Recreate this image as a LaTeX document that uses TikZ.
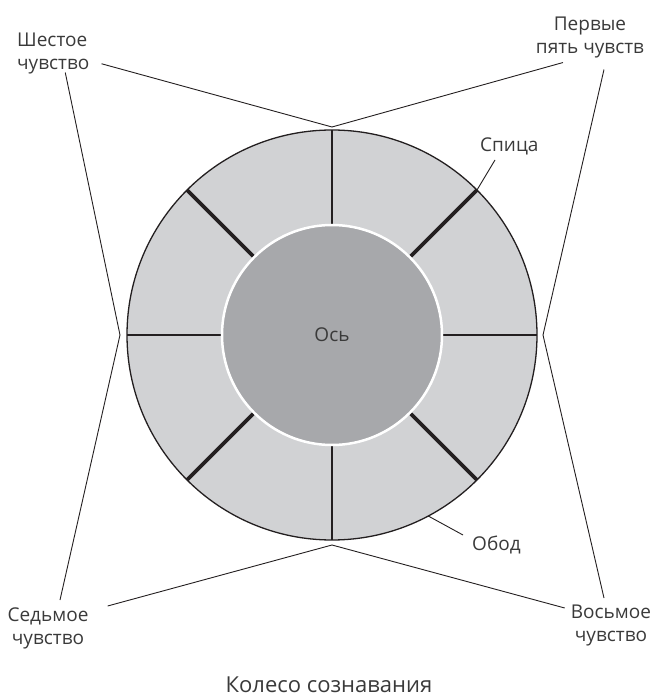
\documentclass[tikz,border=0pt]{standalone}
\usepackage{fontspec}
\setmainfont{Open Sans}

\definecolor{rimgray}{HTML}{D1D2D4}
\definecolor{hubgray}{HTML}{A7A8AB}
\definecolor{ink}{HTML}{231F20}
\definecolor{textgray}{HTML}{3A3A3A}

\tikzstyle{rim}=[circle,fill=rimgray,draw=ink,line width=1.3pt,minimum size=410pt,inner sep=0pt,outer sep=0pt]
\tikzstyle{hub}=[circle,fill=hubgray,draw=white,line width=2.5pt,minimum size=220pt,inner sep=0pt,text=textgray,font=\fontsize{19}{23}\selectfont]
\tikzstyle{thin spoke} = [draw=ink,line width=1.3pt]
\tikzstyle{thick spoke} = [draw=ink,line width=3.8pt]
\tikzstyle{sense} = [align=center,inner sep=0pt,text=textgray,font=\fontsize{19}{23}\selectfont]
\tikzstyle{part} = [inner sep=0pt,text=textgray,font=\fontsize{19}{23}\selectfont]
\tikzstyle{leader} = [draw=ink,line width=0.9pt]
\tikzstyle{caption} = [inner sep=0pt,text=textgray,font=\fontsize{22}{26}\selectfont]

\begin{document}
\begin{tikzpicture}[x=1pt,y=1pt]
     \useasboundingbox (-332,-363) rectangle (319,335);
     % The rim first, then the spokes, then the hub on top
     \node[rim] (rim) at (0,0) {};
     \foreach \a in {0,90,180,270}
     \path[thin spoke] (rim.center) -- (rim.\a);
     \foreach \a in {45,135,225,315}
     \path[thick spoke] (rim.center) -- (rim.\a);
     \node[hub] (hub) at (0,0) {Ось};

     % Points where the sense lines meet
     \foreach \name/\ang/\r in {n/90/208, w/180/212, e/0/211, s/270/210}
     \coordinate (pt-\name) at (\ang:\r);

     % The four senses
     \node[sense,align=left,anchor=north west] (sixth) at (-315,302) {Шестое\\чувство};
     \node[sense,anchor=north] (first) at (258,318) {Первые\\пять чувств};
     \node[sense,anchor=north] (seventh) at (-284,-273) {Седьмое\\чувство};
     \node[sense,anchor=north] (eighth) at (279,-270) {Восьмое\\чувство};

     \path[leader] (pt-n) -- ([xshift=12pt,yshift=-10pt]sixth.east);
     \path[leader] (pt-w) -- ([xshift=12pt,yshift=2pt]sixth.south);
     \path[leader] (pt-n) -- ([xshift=-27pt,yshift=-4pt]first.south);
     \path[leader] (pt-e) -- ([xshift=14pt,yshift=-11pt]first.south);
     \path[leader] (pt-w) -- ([xshift=12pt,yshift=8pt]seventh.north);
     \path[leader] (pt-s) -- ([xshift=19pt,yshift=2pt]seventh.north east);
     \path[leader] (pt-e) -- ([xshift=-7pt,yshift=7pt]eighth.north);
     \path[leader] (pt-s) -- ([xshift=-6pt,yshift=-3pt]eighth.north west);

     % Parts of the wheel
     \node[part,anchor=base west] (spoke) at (148,183) {Спица};
     \node[part,anchor=base west] (felloe) at (140,-215) {Обод};
     \path[leader] ([xshift=15pt,yshift=-8pt]spoke.base west) -- (rim.45);
     \path[leader] ([xshift=-9pt,yshift=15pt]felloe.base west) -- (rim.-62);

     \node[caption,anchor=base] (title) at (-3,-357) {Колесо сознавания};
\end{tikzpicture}
\end{document}
